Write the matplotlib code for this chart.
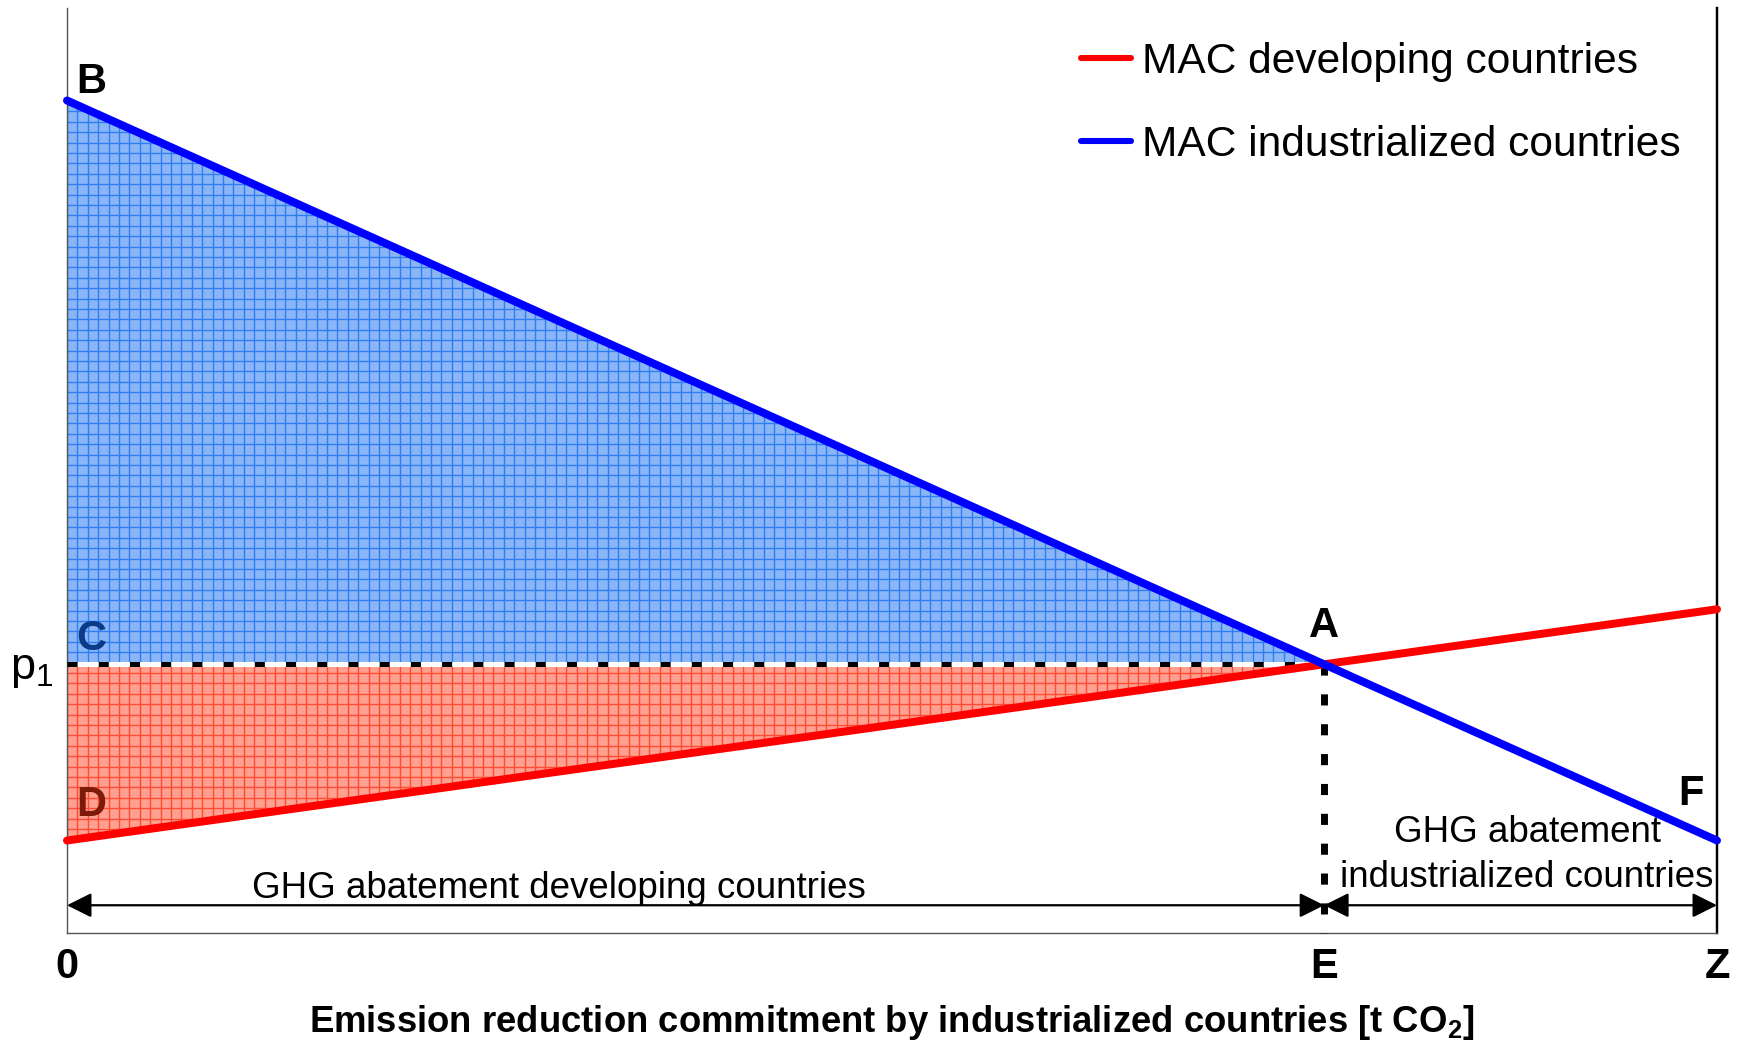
import numpy as np
import matplotlib.pyplot as plt
import matplotlib.transforms as mtransforms
from matplotlib.lines import Line2D

plt.rcParams['font.family'] = ['Liberation Sans', 'DejaVu Sans']
plt.rcParams['mathtext.fontset'] = 'custom'
plt.rcParams['mathtext.rm'] = 'Liberation Sans'
plt.rcParams['mathtext.bf'] = 'Liberation Sans:bold'

# marginal abatement cost curves (linear), x from 0 to Z
x_ends = [0.0, 1.0]
mac_industrialized = [9.0, 1.0]
mac_developing = [1.0, 3.5]
arrow_y = 0.30
ymax = 10.0

# intersection A
bi = np.polyfit(x_ends, mac_industrialized, 1)
bd = np.polyfit(x_ends, mac_developing, 1)
xA = (bd[1] - bi[1]) / (bi[0] - bd[0])
p1 = bd[0] * xA + bd[1]

W, H = 1739, 1043
fig = plt.figure(figsize=(W / 125, H / 125), dpi=125)
ax = fig.add_axes([67 / W, 110 / H, 1650 / W, 925 / H])
ax.set_xlim(0, 1)
ax.set_ylim(0, ymax)

xs = np.array([0.0, xA])
# shaded areas with a fine grid pattern
blue_fill = ax.fill_between(xs, np.polyval(bi, xs), p1, facecolor='#8ab6f7', linewidth=0, zorder=1)
red_fill = ax.fill_between(xs, p1, np.polyval(bd, xs), facecolor='#ffa090', linewidth=0, zorder=1)
step = 10.4  # pixel spacing of the grid pattern
gx = np.arange(0, 1, step / 1650)
gy = np.arange(0, ymax, step * ymax / 925)
for fill, col in [(blue_fill, '#2f7df2'), (red_fill, '#ff4b32')]:
    for lc in [ax.vlines(gx, 0, ymax, color=col, lw=0.8, zorder=1.5),
               ax.hlines(gy, 0, 1, color=col, lw=0.8, zorder=1.5)]:
        lc.set_clip_path(fill.get_paths()[0], ax.transData)

# p1 dashed line and E dashed line
ax.plot([0, xA], [p1, p1], color='white', lw=2.9, zorder=2)
ax.plot([0, xA], [p1, p1], color='black', lw=2.9, ls=(0, (2, 4.2)), zorder=3)
ax.plot([xA, xA], [p1, 0], color='black', lw=4, ls=(0, (1.6, 2.7)), zorder=3, clip_on=False)

ax.plot(x_ends, mac_developing, color='#ff0000', lw=4.6, solid_capstyle='round', zorder=4, clip_on=False)
ax.plot(x_ends, mac_industrialized, color='#0000ff', lw=4.6, solid_capstyle='round', zorder=5, clip_on=False)

# arrows
akw = dict(arrowstyle='<|-|>', color='black', lw=1.3, mutation_scale=30, shrinkA=0, shrinkB=0)
ax.annotate('', xy=(xA, arrow_y), xytext=(0, arrow_y), arrowprops=akw)
ax.annotate('', xy=(1, arrow_y), xytext=(xA, arrow_y), arrowprops=akw)

ax.text(0.298, 0.48, 'GHG abatement developing countries', fontsize=21.2, ha='center', va='center')
ax.text(0.885, 0.84, 'GHG abatement\nindustrialized countries', fontsize=21.2, ha='center',
        va='center', linespacing=1.37)

bold = dict(fontsize=24, fontweight='bold', ha='center', va='center')
ax.text(0.0145, 9.2, 'B', **bold)
ax.text(0.0145, 3.18, 'C', color='#0b3a86', **bold)
ax.text(0.0145, 1.38, 'D', color='#7d1a0a', **bold)
ax.text(xA, 3.32, 'A', **bold)
ax.text(0.984, 1.50, 'F', **bold)

ax.set_xticks([0, xA, 1])
ax.set_xticklabels(['0', 'E', 'Z'], fontsize=24, fontweight='bold')
zero = ax.get_xticklabels()[0]
zero.set_transform(zero.get_transform() + mtransforms.ScaledTranslation(4 / 72, 0, fig.dpi_scale_trans))
ax.set_yticks([p1])
ax.set_yticklabels([r'$\mathrm{p}_1$'], fontsize=26)
ax.tick_params(length=0)
ax.tick_params(axis='x', pad=8)
ax.tick_params(axis='y', pad=8)
ax.set_xlabel(r'Emission reduction commitment by industrialized countries [t CO$_\mathbf{2}$]',
              fontsize=21, fontweight='bold', labelpad=9)

ax.spines['top'].set_visible(False)
ax.spines['left'].set_color('#555555')
ax.spines['left'].set_linewidth(0.8)
ax.spines['bottom'].set_color('#555555')
ax.spines['bottom'].set_linewidth(0.8)
ax.spines['right'].set_color('black')
ax.spines['right'].set_linewidth(1.4)

handles = [Line2D([], [], color='#ff0000', lw=3.5, solid_capstyle='round'),
           Line2D([], [], color='#0000ff', lw=3.5, solid_capstyle='round')]
fig.legend(handles, ['MAC developing countries', 'MAC industrialized countries'],
           loc='upper left', bbox_to_anchor=(1081 / W, 1 - 42 / H), frameon=False,
           fontsize=24.5, handlelength=1.18, handletextpad=0.26, labelspacing=1.01,
           borderpad=0, borderaxespad=0)

fig.savefig('out.png', dpi=125)
